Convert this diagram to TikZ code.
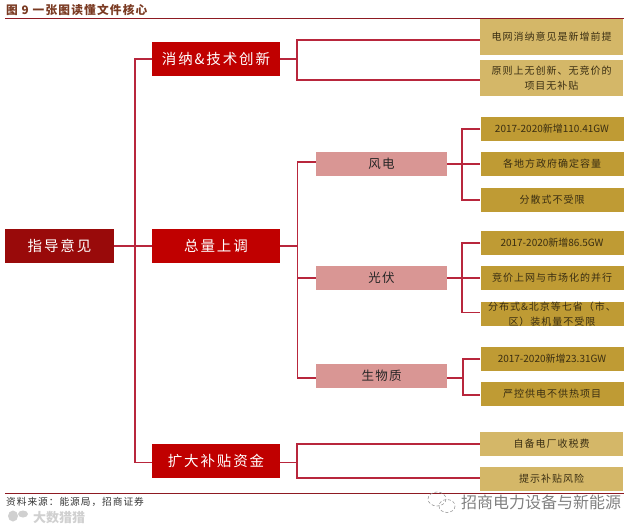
\documentclass[tikz,border=0pt]{standalone}
\usepackage{fontspec}
\setmainfont{Noto Sans CJK SC}
\newfontfamily\cjkwide[LetterSpace=13]{Noto Sans CJK SC}
\newfontfamily\cjkgap[LetterSpace=10]{Noto Sans CJK SC}
\definecolor{cdark}{HTML}{990A0A}
\definecolor{cred}{HTML}{C00000}
\definecolor{cpink}{HTML}{D99694}
\definecolor{clight}{HTML}{D4B768}
\definecolor{cgold}{HTML}{BF9B34}
\definecolor{cline}{HTML}{B8263C}
\definecolor{crule}{HTML}{8E1A22}
\definecolor{ctitle}{HTML}{7A3A22}
\definecolor{cinkgold}{HTML}{3A2E12}
\definecolor{cmark}{HTML}{D0D0D0}
\tikzset{
  every picture/.style={x=1pt, y=-1pt},
  box/.style={fill=#1, align=center, inner sep=0pt},
  rootbox/.style={box=cdark, minimum width=109pt, minimum height=34pt, text=white, font=\cjkwide\fontsize{14.5}{16}\selectfont},
  midbox/.style={box=cred, minimum width=128pt, minimum height=34pt, text=white, font=\cjkwide\fontsize{14.5}{16}\selectfont},
  pinkbox/.style={box=cpink, minimum width=131pt, minimum height=24pt, text=black!85, font=\cjkgap\fontsize{12.5}{14}\selectfont},
  lightbox/.style={box=clight, minimum width=143pt, minimum height=#1, text=cinkgold, font=\cjkgap\fontsize{10}{15}\selectfont},
  goldbox/.style={box=cgold, minimum width=143pt, minimum height=24pt, text=cinkgold, font=\cjkgap\fontsize{10}{14}\selectfont},
  numbox/.style={goldbox, font=\fontsize{10}{14}\selectfont},
  link/.style={draw=cline, line width=1.2pt},
  rulebar/.style={draw=crule, line width=1.3pt},
  caption/.style={anchor=west, inner sep=0pt},
  bubble/.style={draw=black!40, line width=0.6pt, densely dashed},
}
\begin{document}
\begin{tikzpicture}
  \useasboundingbox (0,0) rectangle (640,531);
  \node[caption, text=ctitle, font=\cjkgap\bfseries\fontsize{11.7}{13}\selectfont] (title) at (6,10) {图 9 一张图读懂文件核心};
  \draw[rulebar] (5,18.5) -- (624,18.5);
  \draw[rulebar] (5,493.5) -- (624,493.5);
  \node[caption, text=black!80, font=\cjkgap\fontsize{9.7}{11}\selectfont] (source) at (6,502) {资料来源：能源局，招商证券};
  % tree
  \node[rootbox] (root) at (59.5,246) {指导意见};
  \node[midbox] (mid1) at (216,59) {消纳\&技术创新};
  \node[midbox] (mid2) at (216,246) {总量上调};
  \node[midbox] (mid3) at (216,461) {扩大补贴资金};
  \node[pinkbox] (wind) at (381.5,164) {风电};
  \node[pinkbox] (solar) at (381.5,278) {光伏};
  \node[pinkbox] (biomass) at (381.5,376) {生物质};
  \node[lightbox=36pt] (grid1) at (551.5,37) {电网消纳意见是新增前提};
  \node[lightbox=36pt] (grid2) at (551.5,78) {原则上无创新、无竞价的\\项目无补贴};
  \node[numbox] (wind1) at (552,129) {2017-2020新增110.41GW};
  \node[goldbox] (wind2) at (552,164) {各地方政府确定容量};
  \node[goldbox] (wind3) at (552,200) {分散式不受限};
  \node[numbox] (solar1) at (552,243) {2017-2020新增86.5GW};
  \node[goldbox] (solar2) at (552,278) {竞价上网与市场化的并行};
  \node[goldbox, font=\cjkgap\fontsize{10}{15}\selectfont] (solar3) at (552,314) {分布式\&北京等七省（市、\\区）装机量不受限};
  \node[numbox] (bio1) at (552,359) {2017-2020新增23.31GW};
  \node[goldbox] (bio2) at (552,394) {严控供电不供热项目};
  \node[lightbox=24pt] (fund1) at (551.5,444) {自备电厂收税费};
  \node[lightbox=24pt] (fund2) at (551.5,479) {提示补贴风险};
  \coordinate (spine) at (135,246);
  \coordinate (fork1) at (297,59);
  \coordinate (fork2) at (297.5,246);
  \coordinate (fork3) at (297,462.5);
  \coordinate (forkwind) at (462,164);
  \coordinate (forksolar) at (462,278);
  \coordinate (forkbio) at (463,378);
  \draw[link] (root.east) -- (mid2.west);
  \draw[link] (mid1.west) -| (spine) |- ([yshift=-1.5pt]mid3.west);
  \draw[link] (mid1.east) -- (fork1);
  \draw[link] ([yshift=-3pt]grid1.west) -| (fork1) |- ([yshift=-2pt]grid2.west);
  \draw[link] (mid2.east) -- (fork2);
  \draw[link] ([yshift=2pt]wind.west) -| (fork2) |- ([yshift=-2pt]biomass.west);
  \draw[link] (solar.west) -- (fork2 |- solar.west);
  \draw[link] (wind.east) -- (wind2.west);
  \draw[link] (wind1.west) -| (forkwind) |- (wind3.west);
  \draw[link] (solar.east) -- (solar2.west);
  \draw[link] (solar1.west) -| (forksolar) |- ([yshift=1.5pt]solar3.west);
  \draw[link] ([yshift=-2pt]biomass.east) -- (forkbio);
  \draw[link] (bio1.west) -| (forkbio) |- ([yshift=-1pt]bio2.west);
  \draw[link] ([yshift=-1.5pt]mid3.east) -- (fork3);
  \draw[link] (fund1.west) -| (fork3) |- ([yshift=1pt]fund2.west);
  % watermarks
  \draw[bubble] (437,499) ellipse (9 and 7);
  \draw[bubble] (447,506) ellipse (8 and 6.5);
  \node[caption, text=black!50, font=\fontsize{16}{18}\selectfont] (mark) at (461,502) {招商电力设备与新能源};
  \fill[cmark] (13,516) ellipse (5 and 5.5);
  \fill[cmark] (23,514) ellipse (5 and 3.5);
  \node[caption, text=cmark, font=\bfseries\fontsize{13}{15}\selectfont] (brand) at (33,518) {大数猎猎};
\end{tikzpicture}
\end{document}
